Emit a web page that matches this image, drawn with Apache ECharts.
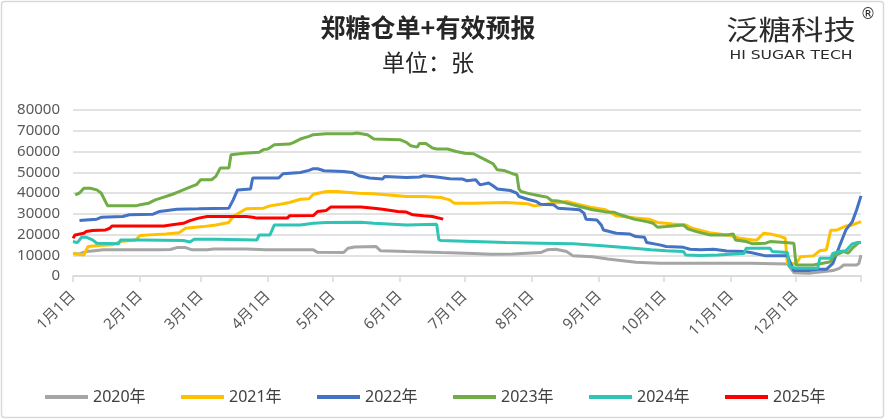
<!DOCTYPE html>
<html>
<head>
<meta charset="utf-8">
<script src="https://cdn.jsdelivr.net/npm/echarts@6/dist/echarts.min.js"></script>
<style>
html,body{margin:0;padding:0;background:#fff;}
#c{width:888px;height:420px;}
</style>
</head>
<body>
<div id="c"></div>
<script>
// ---- data ----
const monthLengths = [31,28,31,30,31,30,31,31,30,31,30,31];
const legendNames = ['2020年','2021年','2022年','2023年','2024年','2025年'];
const yTicks = [0,10000,20000,30000,40000,50000,60000,70000,80000];

// [day-of-year index (0 = 1月1日), value]
const s2020 = [[0,10900],[3,10600],[6,11800],[9,12100],[14,12600],[40,12600],[45,12800],[48,13700],[52,13700],[55,12600],[62,12600],[65,13000],[80,13000],[89,12600],[111,12600],[113,11400],[125,11300],[127,13400],[130,14000],[140,14200],[142,12200],[154,11800],[170,11300],[185,10900],[193,10500],[203,10600],[216,11300],[219,12600],[223,12900],[228,11800],[231,9700],[240,9300],[247,8200],[254,7400],[260,6600],[271,6100],[313,6100],[330,5800],[333,1600],[340,1300],[351,2600],[354,3700],[356,5300],[362,5300],[363,6000],[364,10100]];
const s2021 = [[0,10900],[5,10100],[7,14200],[12,14700],[18,15000],[22,16600],[29,17400],[31,19500],[43,20300],[49,20900],[52,23000],[60,23800],[66,24600],[72,25800],[74,28700],[80,32400],[88,32700],[91,33800],[97,34800],[100,35400],[105,37000],[109,37200],[111,39400],[117,40700],[122,40700],[132,39900],[139,39600],[154,38300],[162,38300],[170,37800],[174,36700],[176,35100],[185,35100],[200,35400],[210,34800],[213,33800],[222,35100],[228,35900],[234,34300],[239,33200],[246,31900],[251,29000],[260,27900],[266,27400],[270,25800],[277,25100],[283,24600],[286,23000],[294,20900],[302,19800],[308,18200],[314,17400],[316,17400],[319,20600],[322,20300],[327,19000],[329,18200],[330,6100],[334,5800],[336,9300],[342,9700],[345,12200],[348,12600],[350,22000],[353,22200],[357,24100],[360,24600],[364,26200]];
const s2022 = [[3,26700],[6,27000],[11,27400],[13,28300],[23,28700],[26,29500],[37,29800],[40,31100],[48,32200],[58,32400],[72,32700],[74,36700],[76,41500],[82,41900],[83,47200],[95,47200],[97,49300],[105,49900],[109,50900],[111,51700],[113,51700],[116,50700],[125,50400],[129,49900],[132,48300],[137,47200],[143,46700],[144,48000],[154,47500],[160,47700],[162,48300],[168,47700],[174,46900],[180,46700],[182,45900],[186,46400],[188,43900],[192,44800],[194,43500],[196,41900],[202,41200],[205,39900],[206,38300],[210,37000],[214,35900],[216,34600],[222,34300],[224,32700],[231,32200],[234,31900],[236,30300],[237,27400],[242,27000],[244,24600],[245,22200],[251,20600],[257,20300],[260,19000],[264,18700],[265,16100],[271,15000],[274,14200],[282,13800],[285,12900],[290,12600],[296,12900],[302,12100],[310,11800],[313,11300],[320,9700],[330,9700],[333,2600],[340,2600],[344,3200],[348,3200],[351,6100],[354,14200],[357,22200],[360,26200],[362,31900],[364,38600]];
const s2023 = [[1,39100],[3,40000],[5,42300],[8,42300],[11,41500],[13,40000],[16,33800],[29,33800],[31,34300],[35,35100],[38,36700],[42,38000],[46,39400],[49,40700],[54,42800],[57,44000],[59,46400],[64,46400],[66,48000],[68,52000],[72,52000],[73,58400],[79,59200],[86,59600],[88,60900],[90,61200],[93,63300],[100,63600],[102,64400],[105,66000],[109,67300],[111,68100],[117,68600],[129,68600],[131,68900],[136,68100],[139,66000],[151,65700],[154,64400],[156,62800],[159,62100],[160,63800],[163,63800],[166,61700],[168,61200],[173,61200],[177,60000],[181,59200],[185,58900],[188,57300],[191,55700],[194,54100],[196,51200],[199,50900],[203,49300],[205,48800],[206,41900],[207,40700],[211,39600],[216,38600],[219,38000],[221,36400],[224,36200],[228,35100],[234,33500],[240,31900],[246,30900],[250,30700],[253,29500],[259,27400],[265,26200],[268,25400],[270,23500],[274,23800],[282,24600],[284,22700],[288,21400],[294,19800],[302,19800],[305,20300],[306,17400],[311,16600],[314,15500],[320,15800],[322,16600],[329,16100],[333,15800],[334,5300],[342,5300],[350,6900],[351,9300],[356,11800],[358,11000],[360,13400],[363,16100],[364,16100]];
const s2024 = [[0,16600],[2,16100],[4,18700],[6,18700],[9,17400],[11,15800],[21,15500],[22,17400],[32,17400],[51,17100],[54,16400],[56,17700],[66,17700],[85,17400],[86,19800],[91,19800],[93,24600],[105,24600],[111,25400],[117,25800],[133,25900],[139,25400],[154,24600],[168,24900],[169,17400],[170,17100],[185,16600],[200,16100],[216,15800],[231,15500],[246,14500],[259,13400],[267,12600],[274,12200],[282,11800],[283,10100],[290,9900],[298,10100],[305,10600],[310,10900],[311,13400],[322,13400],[323,11800],[330,11300],[331,4500],[334,3700],[344,3700],[345,8500],[350,8500],[351,10900],[354,11800],[357,12200],[360,15500],[362,16100],[364,16100]];
const s2025 = [[0,18200],[1,19800],[5,20600],[6,21400],[9,21900],[15,22200],[17,23000],[18,24100],[42,24100],[45,24600],[51,25400],[54,26700],[58,27900],[62,28700],[80,28700],[83,28300],[85,27900],[99,27900],[100,29000],[111,29100],[113,31100],[117,31600],[119,33200],[133,33200],[139,32700],[143,32200],[150,31100],[154,30800],[157,29500],[162,29000],[166,28700],[171,27400]];

const seriesData = [s2020, s2021, s2022, s2023, s2024, s2025];
const colors = ['#A5A5A5','#FFC000','#4472C4','#70AD47','#2EC4B6','#FF0000'];

// ---- categories: every day of the year ----
const categories = [];
const monthStart = {};
let idx = 0;
monthLengths.forEach((len, m) => {
  monthStart[idx] = true;
  for (let d = 1; d <= len; d++) { categories.push((m + 1) + '月' + d + '日'); idx++; }
});
const lastIdx = categories.length - 1;

const FONT = "'Noto Sans', 'Noto Sans CJK SC', sans-serif";

const chart = echarts.init(document.getElementById('c'), null, {renderer: 'canvas'});
chart.setOption({
  animation: false,
  backgroundColor: '#fff',
  textStyle: {fontFamily: FONT},
  title: {
    text: '郑糖仓单+有效预报',
    subtext: '单位：张',
    left: 428,
    top: 15,
    padding: 0,
    textAlign: 'center',
    itemGap: 11,
    textStyle: {fontSize: 25, fontWeight: 'bold', color: '#262626', fontFamily: "'Noto Sans CJK SC', sans-serif"},
    subtextStyle: {fontSize: 23, color: '#262626', fontFamily: "'Noto Sans CJK SC', sans-serif"}
  },
  graphic: [
    {type: 'rect', shape: {x: 1.5, y: 1.5, width: 882, height: 416, r: 3}, style: {fill: 'none', stroke: '#D9D9D9', lineWidth: 1.5}, silent: true},
    {type: 'text', x: 791, y: 30, scaleX: 1.2, style: {text: '泛糖科技', align: 'center', verticalAlign: 'middle', textAlign: 'center', textVerticalAlign: 'middle', font: "27px 'Noto Sans CJK SC'", fill: '#2b2b2b'}},
    {type: 'text', x: 791, y: 56, scaleX: 1.3, style: {text: 'HI SUGAR TECH', align: 'center', verticalAlign: 'middle', textAlign: 'center', textVerticalAlign: 'middle', font: "12px 'DejaVu Sans'", fill: '#2b2b2b'}},
    {type: 'text', x: 868, y: 15, style: {text: '®', align: 'center', verticalAlign: 'middle', textAlign: 'center', textVerticalAlign: 'middle', font: "15px 'DejaVu Sans'", fill: '#2b2b2b'}}
  ],
  legend: {
    data: legendNames,
    left: 40,
    top: 383,
    icon: 'rect',
    itemWidth: 43,
    itemHeight: 4,
    itemGap: 30,
    textStyle: {fontSize: 16, color: '#404040', width: 58, lineHeight: 18, fontFamily: FONT}
  },
  grid: {left: 73, right: 27, top: 110, bottom: 144, containLabel: false},
  xAxis: {
    type: 'category',
    data: categories,
    boundaryGap: false,
    axisLine: {lineStyle: {color: '#D9D9D9', width: 1.5}},
    axisTick: {show: true, length: 6, lineStyle: {color: '#D9D9D9', width: 1.5}, interval: (i) => !!monthStart[i] || i === lastIdx},
    axisLabel: {interval: (i) => !!monthStart[i], rotate: 45, margin: 18, fontSize: 15, color: '#595959', fontFamily: FONT},
    splitLine: {show: false}
  },
  yAxis: {
    type: 'value',
    min: yTicks[0],
    max: yTicks[yTicks.length - 1],
    interval: yTicks[1] - yTicks[0],
    axisLine: {show: false},
    axisTick: {show: false},
    axisLabel: {fontSize: 15, color: '#595959', margin: 13, fontFamily: FONT, formatter: (v) => String(v)},
    splitLine: {lineStyle: {color: '#D9D9D9', width: 1.5}}
  },
  series: legendNames.map((name, i) => ({
    name: name,
    type: 'line',
    data: seriesData[i],
    showSymbol: false,
    symbol: 'none',
    color: colors[i],
    lineStyle: {width: 3, color: colors[i]},
    z: 2 + i
  }))
});
</script>
</body>
</html>
